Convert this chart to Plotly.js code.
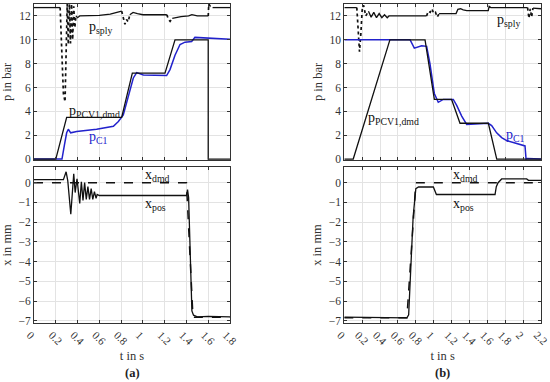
<!DOCTYPE html>
<html>
<head>
<meta charset="utf-8">
<script src="https://cdn.plot.ly/plotly-3.0.1.min.js"></script>
<style>html,body{margin:0;padding:0;background:#fff;}#chart{width:550px;height:382px;}</style>
</head>
<body>
<div id="chart"></div>
<script>
// ---------- (a) upper: pressures ----------
var tA_dmd = [0, 0.2, 0.3, 0.805, 0.903, 1.203, 1.295, 1.6, 1.6, 1.8];
var pA_dmd = [0, 0, 3.5, 3.5, 7.2, 7.2, 10, 10, 0, 0];

var tA_c1 = [0, 0.257, 0.28, 0.3, 0.315, 0.337, 0.392, 0.575, 0.729, 0.775, 0.82, 0.866, 0.912, 0.943, 1.004, 1.218, 1.249, 1.295, 1.341, 1.387, 1.448, 1.478, 1.585, 1.8];
var pA_c1 = [0, 0, 1.2, 2.2, 2.5, 2.2, 2.3, 2.5, 2.75, 3.15, 3.7, 5.2, 6.8, 7.25, 7.05, 7.0, 7.5, 8.7, 9.6, 9.8, 9.85, 10.2, 10.15, 10.05];

var tA_sply = [0, 0.24, null, 0.385, 0.40, 0.42, 0.5, 0.6, 0.7, 0.78, 0.805, null, 0.88, 0.91, 0.95, 1.0, 1.1, 1.22, null, 1.27, 1.35, 1.42, 1.45, 1.5, 1.6, null, 1.64, 1.8];
var pA_sply = [12.7, 12.7, null, 12.0, 11.85, 12.0, 12.0, 12.05, 12.15, 12.35, 12.4, null, 12.1, 12.3, 12.2, 12.1, 12.1, 12.1, null, 11.8, 11.95, 12.0, 12.1, 12.0, 12.0, null, 12.7, 12.7];
var tA_splyDot = [0.24, 0.255, 0.27, 0.285, 0.295, 0.305, 0.315, 0.325, 0.335, 0.345, 0.355, 0.365, 0.375, 0.385, null, 0.805, 0.82, 0.835, 0.85, 0.865, 0.88, null, 1.22, 1.235, 1.25, 1.27, null, 1.6, 1.605, 1.62, 1.64];
var pA_splyDot = [12.7, 9.0, 5.5, 4.8, 9.0, 13.0, 9.6, 13.0, 9.7, 13.0, 10.0, 12.8, 11.0, 12.0, null, 12.4, 11.7, 11.3, 11.7, 11.5, 12.1, null, 12.1, 11.7, 11.55, 11.8, null, 12.0, 13.0, 12.8, 12.7];

// ---------- (a) lower: positions ----------
var tA_xdmd = [0, 1.40, 1.46, 1.8];
var xA_dmd = [0, 0, -6.82, -6.82];
var tA_xpos = [0, 0.27, 0.295, 0.31, 0.338, 0.365, 0.378, 0.395, 0.42, 0.435, 0.45, 0.465, 0.48, 0.495, 0.51, 0.525, 0.54, 0.555, 0.57, 0.58, 0.6, 1.40, 1.41, 1.42, 1.45, 1.465, 1.5, 1.6, 1.8];
var xA_pos = [0.15, 0.15, 0.55, 0.1, -1.6, 0.45, -0.5, 0.2, -1.05, 0.05, -0.9, 0.0, -0.85, -0.2, -0.85, -0.3, -0.85, -0.45, -0.8, -0.6, -0.65, -0.65, -0.35, -0.75, -6.5, -6.72, -6.8, -6.78, -6.8];

// ---------- (b) upper: pressures ----------
var tB_dmd = [0, 0.10, 0.51, 0.903, 1.007, 1.20, 1.294, 1.611, 1.705, 2.2];
var pB_dmd = [0, 0, 10, 10, 5, 5, 3, 3, 0, 0];

var tB_c1 = [0, 0.735, 0.783, 0.865, 0.921, 0.958, 1.007, 1.051, 1.107, 1.219, 1.257, 1.313, 1.369, 1.462, 1.611, 1.648, 1.704, 1.760, 1.816, 1.909, 2.021, 2.033, 2.05, 2.2];
var pB_c1 = [10.0, 10.0, 9.3, 9.5, 9.45, 8.0, 5.5, 4.76, 5.0, 5.0, 4.5, 3.6, 2.9, 2.95, 3.0, 2.8, 2.2, 1.8, 1.55, 1.35, 1.1, 0.0, 0.05, 0.0];

var tB_sply = [0, 0.14, null, 0.27, 0.30, 0.33, 0.36, 0.39, 0.42, 0.45, 0.48, 0.5, 0.92, null, 1.06, 1.25, 1.27, 1.30, 1.33, 1.37, 1.61, 1.62, 1.64, 2.05, null, 2.11, 2.2];
var pB_sply = [12.7, 12.7, null, 12.4, 11.9, 12.3, 11.85, 12.2, 11.85, 12.1, 11.85, 12.0, 12.0, null, 12.2, 12.2, 12.55, 12.6, 12.5, 12.45, 12.45, 12.8, 12.7, 12.7, null, 12.65, 12.6];
var tB_splyDot = [0.14, 0.155, 0.17, 0.185, 0.20, 0.215, 0.24, 0.27, null, 0.92, 0.94, 0.96, 0.98, 1.0, 1.02, 1.04, 1.06, null, 2.05, 2.065, 2.08, 2.095, 2.11];
var pB_splyDot = [12.7, 10.5, 9.0, 10.5, 12.5, 12.9, 12.0, 12.4, null, 12.0, 12.4, 12.3, 12.6, 12.2, 12.3, 11.9, 12.2, null, 12.7, 11.8, 12.6, 11.9, 12.65];

// ---------- (b) lower: positions ----------
var tB_xdmd = [0, 0.70, 0.80, 2.2];
var xB_dmd = [-6.85, -6.85, 0, 0];
var tB_xpos = [0, 0.5, 0.70, 0.72, 0.75, 0.77, 0.80, 0.83, 0.996, 1.02, 1.03, 1.686, 1.70, 1.72, 1.76, 2.04, 2.06, 2.2];
var xB_pos = [-6.82, -6.85, -6.85, -6.7, -4.0, -1.73, -0.3, -0.22, -0.22, -0.55, -0.6, -0.6, -0.2, 0.0, 0.19, 0.19, 0.12, 0.12];

// ---------- labels ----------
var yTitleP = 'p in bar';
var yTitleX = 'x in mm';
var xTitle = 't in s';
var panelLabels = ['(a)', '(b)'];
var ticksA = [0, 0.2, 0.4, 0.6, 0.8, 1, 1.2, 1.4, 1.6, 1.8];
var ticksB = [0, 0.2, 0.4, 0.6, 0.8, 1, 1.2, 1.4, 1.6, 1.8, 2, 2.2];

var BLACK = '#111111';
var BLUE = '#2222cc';
var FONT = 'Liberation Serif, Times New Roman, serif';

function line(x, y, xa, ya, color, dash, width) {
  return {x: x, y: y, xaxis: xa, yaxis: ya, type: 'scatter', mode: 'lines',
          line: {color: color, dash: dash, width: width}, hoverinfo: 'skip', showlegend: false};
}

var data = [
  line(tA_sply, pA_sply, 'x', 'y', BLACK, 'solid', 1.3),
  line(tA_splyDot, pA_splyDot, 'x', 'y', BLACK, 'dot', 1.7),
  line(tA_c1, pA_c1, 'x', 'y', BLUE, 'solid', 1.5),
  line(tA_dmd, pA_dmd, 'x', 'y', BLACK, 'solid', 1.3),
  line(tA_xdmd, xA_dmd, 'x2', 'y2', BLACK, 'dash', 1.5),
  line(tA_xpos, xA_pos, 'x2', 'y2', BLACK, 'solid', 1.3),
  line(tB_sply, pB_sply, 'x3', 'y3', BLACK, 'solid', 1.3),
  line(tB_splyDot, pB_splyDot, 'x3', 'y3', BLACK, 'dot', 1.7),
  line(tB_c1, pB_c1, 'x3', 'y3', BLUE, 'solid', 1.5),
  line(tB_dmd, pB_dmd, 'x3', 'y3', BLACK, 'solid', 1.3),
  line(tB_xdmd, xB_dmd, 'x4', 'y4', BLACK, 'dash', 1.5),
  line(tB_xpos, xB_pos, 'x4', 'y4', BLACK, 'solid', 1.3)
];

var W = 550, H = 382;
var leftX = [34 / W, 230 / W];
var rightX = [344.3 / W, 541 / W];
var upY = [1 - 160 / H, 1 - 4 / H];
var lowY = [1 - 323.3 / H, 1 - 166.7 / H];

function axBase(extra) {
  var a = {
    showline: true, mirror: 'ticks', linecolor: '#333', linewidth: 1,
    ticks: 'inside', ticklen: 3, tickcolor: '#333',
    showgrid: true, gridcolor: '#e3e3e3', gridwidth: 1,
    zeroline: false, automargin: false, fixedrange: true,
    tickfont: {family: FONT, size: 11.5, color: '#333'}
  };
  for (var k in extra) a[k] = extra[k];
  return a;
}

var titleFont = {family: FONT, size: 12.5, color: '#333'};

var layout = {
  width: W, height: H, autosize: false,
  margin: {l: 0, r: 0, t: 0, b: 0, pad: 0},
  paper_bgcolor: '#fff', plot_bgcolor: '#fff',
  showlegend: false,
  xaxis: axBase({domain: leftX, anchor: 'y', range: [0, 1.8], tickmode: 'array', tickvals: ticksA, showticklabels: false}),
  yaxis: axBase({domain: upY, anchor: 'x', range: [-0.08, 13], dtick: 2, tick0: 0,
                 title: {text: yTitleP, font: titleFont, standoff: 4}}),
  xaxis2: axBase({domain: leftX, anchor: 'y2', range: [0, 1.8], tickmode: 'array', tickvals: ticksA,
                  ticktext: ticksA.map(String), tickangle: 45, ticklabeloverflow: 'allow', ticklabelshift: -4,
                  tickfont: {family: FONT, size: 11, color: '#333'},
                  title: {text: xTitle, font: titleFont, standoff: 4}}),
  yaxis2: axBase({domain: lowY, anchor: 'x2', range: [-7.13, 0.81], dtick: 1, tick0: 0,
                  title: {text: yTitleX, font: titleFont, standoff: 4}}),
  xaxis3: axBase({domain: rightX, anchor: 'y3', range: [0, 2.2], tickmode: 'array', tickvals: ticksB, showticklabels: false}),
  yaxis3: axBase({domain: upY, anchor: 'x3', range: [-0.08, 13], dtick: 2, tick0: 0,
                  title: {text: yTitleP, font: titleFont, standoff: 4}}),
  xaxis4: axBase({domain: rightX, anchor: 'y4', range: [0, 2.2], tickmode: 'array', tickvals: ticksB,
                  ticktext: ticksB.map(String), tickangle: 45, ticklabeloverflow: 'allow', ticklabelshift: -4,
                  tickfont: {family: FONT, size: 11, color: '#333'},
                  title: {text: xTitle, font: titleFont, standoff: 4}}),
  yaxis4: axBase({domain: lowY, anchor: 'x4', range: [-7.13, 0.81], dtick: 1, tick0: 0,
                  title: {text: yTitleX, font: titleFont, standoff: 4}}),
  annotations: []
};

function note(text, x, y, xref, yref, color, xanchor) {
  return {text: text, x: x, y: y, xref: xref, yref: yref, showarrow: false,
          xanchor: xanchor || 'left', yanchor: 'middle',
          font: {family: FONT, size: 14, color: color || BLACK}};
}

layout.annotations.push(
  note('p<sub>sply</sub>', 0.49, 11.0, 'x', 'y'),
  note('p<sub>PCV1,dmd</sub>', 0.30, 4.0, 'x', 'y'),
  note('p<sub>C1</sub>', 0.49, 1.8, 'x', 'y', BLUE),
  note('x<sub>dmd</sub>', 1.0, 0.35, 'x2', 'y2'),
  note('x<sub>pos</sub>', 1.0, -1.1, 'x2', 'y2'),
  note('p<sub>sply</sub>', 1.69, 11.6, 'x3', 'y3'),
  note('p<sub>PCV1,dmd</sub>', 0.24, 3.4, 'x3', 'y3'),
  note('p<sub>C1</sub>', 1.79, 2.0, 'x3', 'y3', BLUE),
  note('x<sub>dmd</sub>', 1.19, 0.35, 'x4', 'y4'),
  note('x<sub>pos</sub>', 1.19, -1.1, 'x4', 'y4'),
  {text: '<b>' + panelLabels[0] + '</b>', x: 132 / W, y: 1 - 373 / H, xref: 'paper', yref: 'paper',
   showarrow: false, xanchor: 'center', yanchor: 'middle', font: {family: FONT, size: 12.5, color: '#222'}},
  {text: '<b>' + panelLabels[1] + '</b>', x: 442 / W, y: 1 - 373 / H, xref: 'paper', yref: 'paper',
   showarrow: false, xanchor: 'center', yanchor: 'middle', font: {family: FONT, size: 12.5, color: '#222'}}
);

Plotly.newPlot('chart', data, layout, {staticPlot: true, displayModeBar: false});
</script>
</body>
</html>
